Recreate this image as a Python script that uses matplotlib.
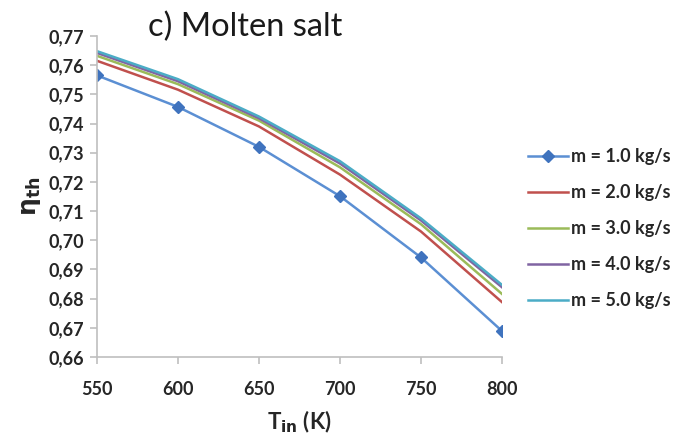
import matplotlib
matplotlib.use("Agg")
import matplotlib.pyplot as plt

# inlet temperature (K)
t_in = [550, 600, 650, 700, 750, 800]

# thermal efficiency for each mass flow rate
eta_m1 = [0.7565, 0.7457, 0.7320, 0.7151, 0.6941, 0.6689]
eta_m2 = [0.7615, 0.7516, 0.7390, 0.7225, 0.7030, 0.6788]
eta_m3 = [0.7632, 0.7535, 0.7410, 0.7250, 0.7055, 0.6816]
eta_m4 = [0.7642, 0.7545, 0.7418, 0.7263, 0.7068, 0.6839]
eta_m5 = [0.7648, 0.7552, 0.7424, 0.7271, 0.7075, 0.6847]

labels = ['m = 1.0 kg/s', 'm = 2.0 kg/s', 'm = 3.0 kg/s', 'm = 4.0 kg/s', 'm = 5.0 kg/s']
colors = ['#4F81BD', '#C0504D', '#9BBB59', '#8064A2', '#4BACC6']

plt.rcParams['font.family'] = ['Lato', 'DejaVu Sans']

fig = plt.figure(figsize=(6.73, 4.36), dpi=100)
ax = fig.add_axes([97/673, 1-357/436, (502-97)/673, (357-36)/436])

ax.plot(t_in, eta_m1, color='#5B8FD3', lw=1.8, marker='D', ms=6,
        mfc='#3F73BE', mec='#3F73BE', label=labels[0])
series = [eta_m2, eta_m3, eta_m4, eta_m5]
for s, c, l in zip(series, colors[1:], labels[1:]):
    ax.plot(t_in, s, color=c, lw=1.8, label=l)

ax.set_xlim(550, 800)
ax.set_ylim(0.66, 0.77)
ax.set_xticks(t_in, labels=[str(v) for v in t_in], fontweight='bold')
yt = [0.66 + 0.01*i for i in range(12)]
ax.set_yticks(yt, labels=[('%.2f' % v).replace('.', ',') for v in yt], fontweight='bold')

for side in ['top', 'right']:
    ax.spines[side].set_visible(False)
for side in ['left', 'bottom']:
    ax.spines[side].set_color('#BFBFBF')
    ax.spines[side].set_linewidth(1.2)
ax.tick_params(axis='both', direction='out', length=5, width=1.2, color='#BFBFBF',
               labelsize=13, labelcolor='#262626', pad=4)
ax.tick_params(axis='x', pad=12)

ax.set_xlabel(r'T$_{\mathbf{in}}$ (K)', fontsize=16, fontweight='bold', color='#262626', labelpad=8)
ax.set_ylabel(r'$\mathbf{\eta}_{\mathbf{th}}$', fontsize=18, color='#262626', labelpad=4)

fig.text(148/673, 1-27/436, 'c) Molten salt', fontsize=23.5, va='center', ha='left', color='#1a1a1a')

leg = ax.legend(loc='center left', bbox_to_anchor=(1.064, 0.40), frameon=False,
                fontsize=13, handlelength=2.2, labelspacing=1.06, handletextpad=0.2,
                borderpad=0, borderaxespad=0)
for t in leg.get_texts():
    t.set_fontweight('bold')
    t.set_color('#262626')

fig.savefig('out.png', dpi=100)
